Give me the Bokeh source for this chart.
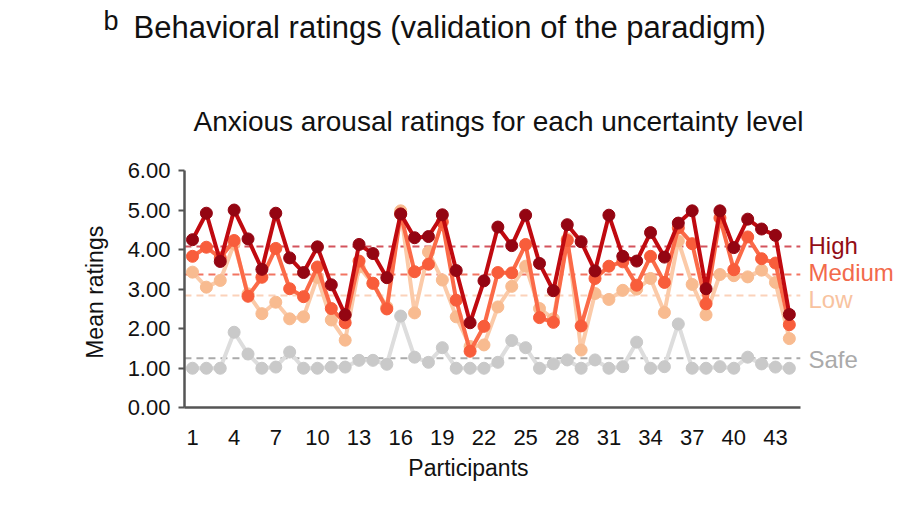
from bokeh.plotting import figure
from bokeh.models import Label, FixedTicker, NumeralTickFormatter, Range1d, ColumnDataSource, LinearAxis
from bokeh.embed import file_html
from bokeh.resources import INLINE

participants = list(range(1, 45))

high = [4.25, 4.92, 3.70, 5.00, 4.27, 3.50, 4.92, 3.79, 3.42, 4.07,
        3.11, 2.35, 4.13, 3.90, 3.29, 4.90, 4.30, 4.33, 4.88, 3.47,
        2.15, 3.21, 4.57, 4.10, 4.87, 3.65, 2.96, 4.63, 4.20, 3.46,
        4.87, 3.83, 3.71, 4.43, 3.81, 4.67, 4.98, 3.01, 4.98, 4.05,
        4.77, 4.52, 4.36, 2.36]

medium = [3.83, 4.06, 3.79, 4.23, 2.82, 3.30, 4.03, 3.01, 2.81, 3.56,
          2.51, 2.15, 3.71, 3.15, 2.50, 4.90, 3.44, 3.63, 4.70, 2.72,
          1.43, 2.06, 3.42, 3.41, 4.13, 2.28, 2.16, 4.23, 2.07, 3.27,
          3.58, 3.69, 3.10, 3.83, 3.17, 4.55, 4.15, 2.63, 4.80, 3.49,
          4.32, 3.77, 3.66, 2.10]

low = [3.43, 3.05, 3.22, 4.15, 2.88, 2.38, 2.67, 2.25, 2.30, 3.30,
       2.22, 1.71, 3.56, 3.14, 2.55, 4.98, 2.40, 3.94, 3.23, 2.30,
       1.55, 1.59, 2.55, 3.07, 3.58, 2.51, 2.25, 4.27, 1.46, 2.89,
       2.74, 2.97, 3.00, 3.27, 2.41, 4.22, 3.12, 2.35, 3.37, 3.34,
       3.31, 3.48, 3.17, 1.75]

safe = [1.00, 1.00, 1.00, 1.91, 1.36, 1.00, 1.03, 1.41, 1.00, 1.00,
        1.03, 1.03, 1.20, 1.20, 1.10, 2.32, 1.28, 1.15, 1.52, 1.00,
        1.00, 1.00, 1.15, 1.70, 1.52, 1.00, 1.11, 1.21, 1.00, 1.21,
        1.00, 1.04, 1.66, 1.00, 1.04, 2.12, 1.00, 1.00, 1.04, 1.00,
        1.28, 1.11, 1.03, 1.00]

series_names = ["Safe", "Low", "Medium", "High"]
series_means = [1.25, 2.84, 3.37, 4.08]
x_ticks = list(range(1, 44, 3))
y_ticks = [0, 1, 2, 3, 4, 5, 6]

# plotting area extents (data units)
X0, X1 = 0.42, 44.79
Y0, Y1 = 0, 6

styles = {
    "High":   dict(line="#c00a10", dot="#940512", mean="#d4535c", label="#930d16"),
    "Medium": dict(line="#fb6a48", dot="#f85d3b", mean="#f27562", label="#f26a4b"),
    "Low":    dict(line="#fbcaa8", dot="#f8bb90", mean="#fbd2ba", label="#f8c39f"),
    "Safe":   dict(line="#dddddd", dot="#c9c9c9", mean="#aaaaaa", label="#aaaaaa"),
}
data = {"High": high, "Medium": medium, "Low": low, "Safe": safe}

FONT = "Liberation Sans"

p = figure(width=908, height=508, output_backend="svg", toolbar_location=None,
           x_range=Range1d(-12.833, 52.585), y_range=Range1d(-2.546, 10.298),
           x_axis_type=None, y_axis_type=None, min_border=0)
p.outline_line_color = None
p.xgrid.visible = False
p.ygrid.visible = False
p.background_fill_color = "white"

# mean dashed lines (beneath the series)
for name, m in zip(series_names, series_means):
    p.line(x=[X0, X1], y=[m, m], line_color=styles[name]["mean"],
           line_width=2, line_dash="7 5")

for name in series_names:
    src = ColumnDataSource(dict(x=participants, y=data[name]))
    st = styles[name]
    p.line("x", "y", source=src, line_color=st["line"], line_width=4)
    p.scatter("x", "y", source=src, size=12, fill_color=st["dot"],
              line_color=st["dot"])

# axes
yaxis = LinearAxis(fixed_location=X0, bounds=(Y0, Y1))
yaxis.ticker = FixedTicker(ticks=y_ticks)
yaxis.formatter = NumeralTickFormatter(format="0.00")
yaxis.major_tick_out = 6
yaxis.major_tick_in = 0
yaxis.minor_tick_line_color = None
yaxis.axis_line_color = "#555555"
yaxis.axis_line_width = 2.5
yaxis.major_tick_line_color = "#555555"
yaxis.major_tick_line_width = 2
yaxis.major_label_text_font = FONT
yaxis.major_label_text_font_size = "22px"
yaxis.major_label_text_color = "#111111"
yaxis.major_label_standoff = 8
p.add_layout(yaxis, "left")

xaxis = LinearAxis(fixed_location=Y0, bounds=(X0, X1))
xaxis.ticker = FixedTicker(ticks=x_ticks)
xaxis.major_tick_out = 0
xaxis.major_tick_in = 0
xaxis.minor_tick_line_color = None
xaxis.axis_line_color = "#555555"
xaxis.axis_line_width = 2.5
xaxis.major_label_text_font = FONT
xaxis.major_label_text_font_size = "22px"
xaxis.major_label_text_color = "#111111"
xaxis.major_label_standoff = 22
p.add_layout(xaxis, "below")

# right-side series labels
label_shift = {"High": 0.02, "Medium": 0.04, "Low": -0.11, "Safe": -0.03}
for name, m in zip(series_names, series_means):
    p.add_layout(Label(x=45.38, y=m + label_shift[name], text=name,
                       text_font=FONT, text_font_size="24px",
                       text_color=styles[name]["label"],
                       text_baseline="middle", text_align="left"))

# axis titles
p.add_layout(Label(x=-5.99, y=2.92, text="Mean ratings", angle=1.5708,
                   text_font=FONT, text_font_size="23px", text_color="#111111",
                   text_align="center", text_baseline="middle"))
p.add_layout(Label(x=20.88, y=-1.51, text="Participants",
                   text_font=FONT, text_font_size="23px", text_color="#111111",
                   text_align="center", text_baseline="middle"))

# titles
p.add_layout(Label(x=1.07, y=7.24, text="Anxious arousal ratings for each uncertainty level",
                   text_font=FONT, text_font_size="28px", text_color="#111111",
                   text_align="left", text_baseline="middle"))
p.add_layout(Label(x=-5.41, y=9.79, text="b",
                   text_font=FONT, text_font_size="27px", text_color="#111111",
                   text_align="left", text_baseline="middle"))
p.add_layout(Label(x=-3.25, y=9.62, text="Behavioral ratings (validation of the paradigm)",
                   text_font=FONT, text_font_size="31px", text_color="#111111",
                   text_align="left", text_baseline="middle"))

open("out.html", "w").write(file_html(p, INLINE))
